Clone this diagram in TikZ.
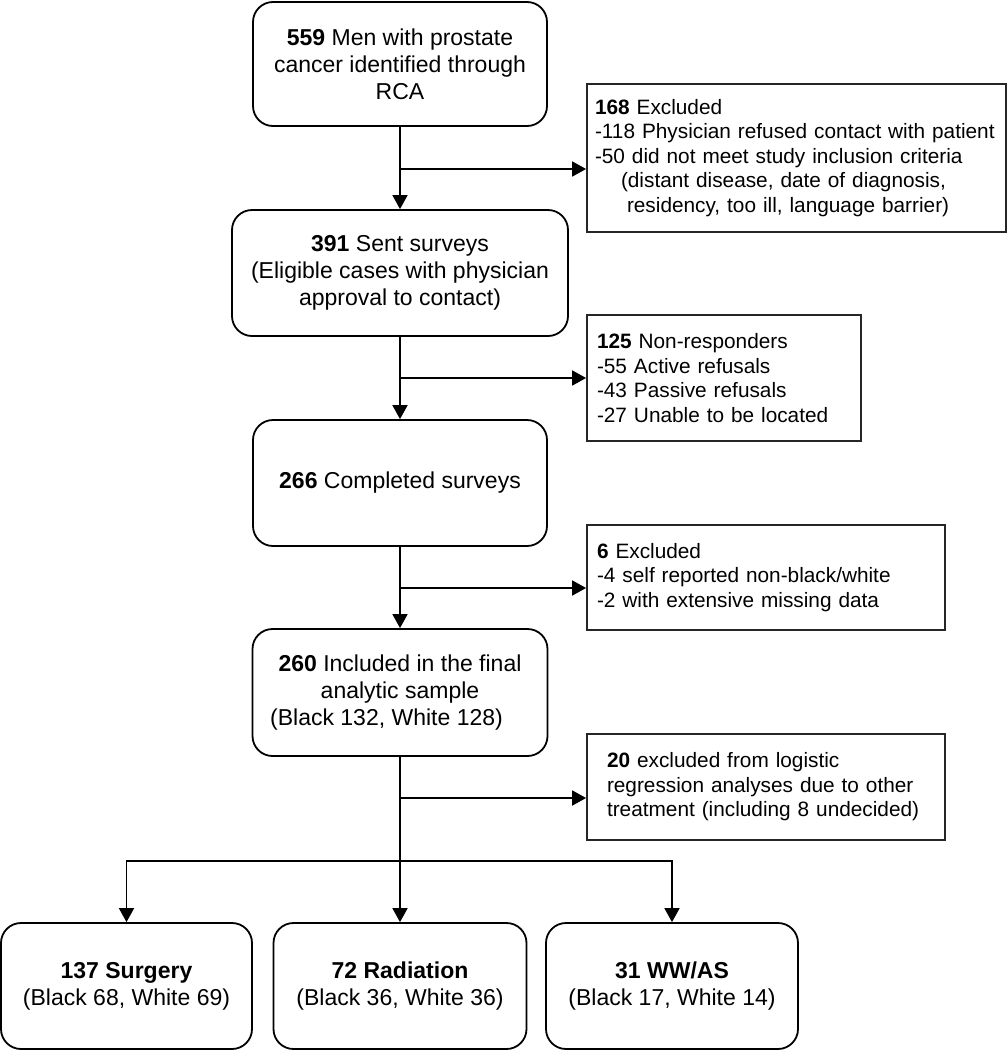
\documentclass[tikz,border=0pt]{standalone}
\usepackage{fontspec}
\setmainfont{Liberation Sans}
\usetikzlibrary{arrows.meta}
\begin{document}
\begin{tikzpicture}[x=1pt,y=-1pt,
  mainbox/.style={draw=black, line width=1.8pt, rounded corners=20pt, inner sep=0pt, align=center,
    font=\fontsize{23}{27}\selectfont},
  sidebox/.style={draw=black!85, line width=1.8pt, inner ysep=0pt, inner xsep=10pt, align=left,
    font=\fontsize{20.8}{24.4}\selectfont},
  arr/.style={line width=1.8pt, -{Triangle[width=15pt,length=14pt]}},
  ln/.style={line width=1.8pt}]
\useasboundingbox (0,0) rectangle (1008,1050);

\node[mainbox, minimum width=294pt, minimum height=124pt] (b1) at (400,64)
  {\textbf{559} Men with prostate\\cancer identified through\\RCA};
\node[mainbox, minimum width=336pt, minimum height=126pt] (b2) at (400,273)
  {\textbf{391} Sent surveys\\(Eligible cases with physician\\approval to contact)};
\node[mainbox, minimum width=294pt, minimum height=126pt] (b3) at (400,483)
  {\textbf{266} Completed surveys};
\node[mainbox, minimum width=295pt, minimum height=127pt] (b4) at (400,692.5)
  {\textbf{260} Included in the final\\analytic sample\\(Black 132, White 128)\hspace*{27pt}};

\node[mainbox, minimum width=251pt, minimum height=126pt] (ba) at (126.5,986)
  {\textbf{137 Surgery}\\(Black 68, White 69)};
\node[mainbox, minimum width=253pt, minimum height=126pt] (bb) at (400,986)
  {\textbf{72 Radiation}\\(Black 36, White 36)};
\node[mainbox, minimum width=252pt, minimum height=126pt] (bc) at (672,986)
  {\textbf{31 WW/AS}\\(Black 17, White 14)};

\node[sidebox, text width=403pt, inner xsep=8pt, minimum height=148pt] (s1) at (796.5,158)
  {\textbf{168} Excluded\\-118 Physician refused contact with patient\\-50 did not meet study inclusion criteria\\\hspace*{26pt}(distant disease, date of diagnosis,\\\hspace*{32pt}residency, too ill, language barrier)};
\node[sidebox, text width=254pt, minimum height=126pt] (s2) at (724,378)
  {\textbf{125} Non-responders\\-55 Active refusals\\-43 Passive refusals\\-27 Unable to be located};
\node[sidebox, text width=338pt, minimum height=105pt] (s3) at (766,577.5)
  {\textbf{6} Excluded\\-4 self reported non-black/white\\-2 with extensive missing data};
\node[sidebox, text width=318pt, inner xsep=20pt, minimum height=106pt] (s4) at (766,787)
  {\textbf{20} excluded from logistic\\regression analyses due to other\\treatment (including 8 undecided)\\[-16pt]};

\coordinate (j1) at (400,169);
\coordinate (j2) at (400,378);
\coordinate (j3) at (400,588);
\coordinate (j4) at (400,798);
\coordinate (sp) at (400,861);

\draw[arr] (b1.south) -- (b2.north);
\draw[arr] (b2.south) -- (b3.north);
\draw[arr] (b3.south) -- (b4.north);
\draw[arr] (b4.south) -- (bb.north);
\draw[arr] (j1) -- (j1 -| s1.west);
\draw[arr] (j2) -- (j2 -| s2.west);
\draw[arr] (j3) -- (j3 -| s3.west);
\draw[arr] (j4) -- (j4 -| s4.west);
\draw[arr] (sp) -| (ba.north);
\draw[arr] (sp) -| (bc.north);
\end{tikzpicture}
\end{document}
